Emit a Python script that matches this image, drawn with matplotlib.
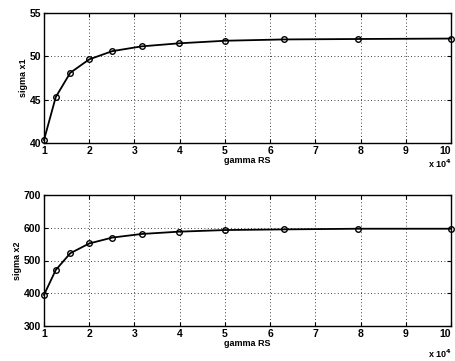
import matplotlib
matplotlib.use('Agg')
import matplotlib.pyplot as plt

plt.rcParams['font.family'] = ['Liberation Sans', 'DejaVu Sans']
plt.rcParams['font.weight'] = 'bold'
plt.rcParams['font.size'] = 7.5

# gamma RS in units of 1e4
gamma = [1.0, 1.26, 1.58, 2.0, 2.51, 3.16, 3.98, 5.01, 6.31, 7.94, 10.0]
sigma_x1 = [40.35, 45.3, 48.1, 49.65, 50.6, 51.15, 51.5, 51.8, 51.95, 52.0, 52.05]
sigma_x2 = [395, 471, 522, 552, 570, 581, 588, 593, 595, 597, 597]

fig = plt.figure(figsize=(4.55, 3.61), dpi=100)
ax1 = fig.add_axes([44/455, 1 - 143/361, 407/455, 130/361])
ax2 = fig.add_axes([44/455, 1 - 326/361, 407/455, 131/361])

for ax, y, ylim, yt, lab, ofs_y in [(ax1, sigma_x1, (40, 55), [40, 45, 50, 55], 'sigma x1', 164),
                                     (ax2, sigma_x2, (300, 700), [300, 400, 500, 600, 700], 'sigma x2', 354)]:
    ax.plot(gamma, y, color='black', lw=1.3, marker='o', ms=4,
            mfc='none', mec='black', mew=1.0, clip_on=False, zorder=3)
    ax.set_xlim(1, 10)
    ax.set_ylim(*ylim)
    ax.set_xticks(range(1, 11))
    ax.set_yticks(yt)
    ax.grid(True, linestyle=(0, (1, 3)), color='black', lw=0.6)
    ax.tick_params(direction='in', length=3, top=True, right=True, pad=2,
                   labelsize=7.5)
    for s in ax.spines.values():
        s.set_linewidth(1.0)
    ax.set_xlabel('gamma RS', fontsize=6.5, labelpad=0, fontweight='bold')
    ax.set_ylabel(lab, fontsize=6.5, labelpad=1, fontweight='bold')
    fig.canvas.draw()
    ax.get_xticklabels()[-1].set_ha('right')
    fig.text(452/455, 1 - ofs_y/361, 'x 10$^{\\mathbf{4}}$', ha='right', va='center',
             fontsize=6.5, fontweight='bold')

fig.savefig('out.png', dpi=100)
